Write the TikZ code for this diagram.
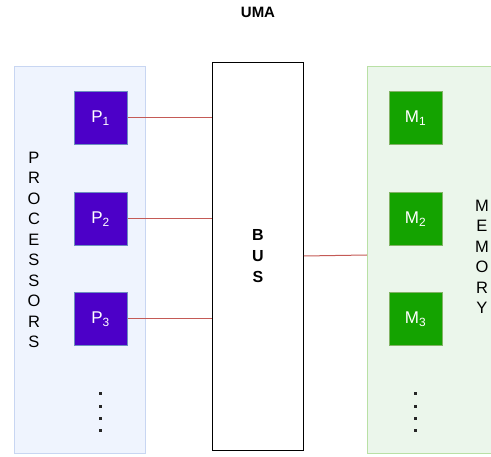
\documentclass[tikz,border=0pt]{standalone}
\usepackage{fontspec}
\setmainfont{Liberation Sans}
\definecolor{pfill}{RGB}{76,0,200}
\definecolor{pborder}{RGB}{108,142,191}
\definecolor{pcont}{RGB}{239,244,254}
\definecolor{pcontb}{RGB}{200,214,242}
\definecolor{mfill}{RGB}{20,163,0}
\definecolor{mborder}{RGB}{130,179,102}
\definecolor{mcont}{RGB}{235,246,235}
\definecolor{mcontb}{RGB}{185,224,165}
\definecolor{link}{RGB}{196,90,86}
\begin{document}
\begin{tikzpicture}[x=1pt,y=-1pt,
  procbox/.style={draw=pborder,fill=pfill,line width=1pt,minimum width=53pt,minimum height=53pt,inner sep=0pt,text=white,font=\fontsize{17}{20}\selectfont},
  membox/.style={draw=mborder,fill=mfill,line width=1pt,minimum width=53pt,minimum height=53pt,inner sep=0pt,text=white,font=\fontsize{17}{20}\selectfont},
  wire/.style={draw=link,line width=1pt},
  vlabel/.style={align=center,font=\fontsize{16.5}{20.5}\selectfont,inner sep=0pt},
  dotmark/.style={fill=black!85,minimum size=3pt,inner sep=0pt,draw=none,rectangle}]
\useasboundingbox (0,0) rectangle (491,457);
% containers
\node[draw=pcontb,fill=pcont,line width=1pt,minimum width=131pt,minimum height=387pt,inner sep=0pt,anchor=north west] (proc) at (14,66) {};
\node[draw=mcontb,fill=mcont,line width=1pt,minimum width=140pt,minimum height=387pt,inner sep=0pt,anchor=north west] (mem) at (367,66) {};
% bus
\node[draw=black,line width=1pt,minimum width=91pt,minimum height=388pt,inner sep=0pt,anchor=north west,align=center,font=\bfseries\fontsize{16}{21}\selectfont] (bus) at (212,62) {B\\U\\S};
% title
\node[font=\bfseries\fontsize{15}{18}\selectfont] (title) at (258,12) {UMA};
% processors
\node[procbox] (p1) at (100.5,118) {P\textsubscript{1}};
\node[procbox] (p2) at (100.5,219) {P\textsubscript{2}};
\node[procbox] (p3) at (100.5,319) {P\textsubscript{3}};
\foreach \y [count=\i] in {394,406.3,418.6,431} {
  \node[dotmark] (pd\i) at (100,\y) {};
  \node[dotmark] (md\i) at (415.5,\y) {};
}
\node[vlabel] (plab) at (34,250) {P\\R\\O\\C\\E\\S\\S\\O\\R\\S};
% memories
\node[membox] (m1) at (415.5,118) {M\textsubscript{1}};
\node[membox] (m2) at (415.5,219) {M\textsubscript{2}};
\node[membox] (m3) at (415.5,319) {M\textsubscript{3}};
\node[vlabel] (mlab) at (482,257) {M\\E\\M\\O\\R\\Y};
% wires
\draw[wire] (p1.east) -- (p1.east -| bus.west);
\draw[wire] (p2.east) -- (p2.east -| bus.west);
\draw[wire] (p3.east) -- (p3.east -| bus.west);
\draw[wire] (bus.east |- 0,256) -- (mem.west |- 0,255);
\end{tikzpicture}
\end{document}
